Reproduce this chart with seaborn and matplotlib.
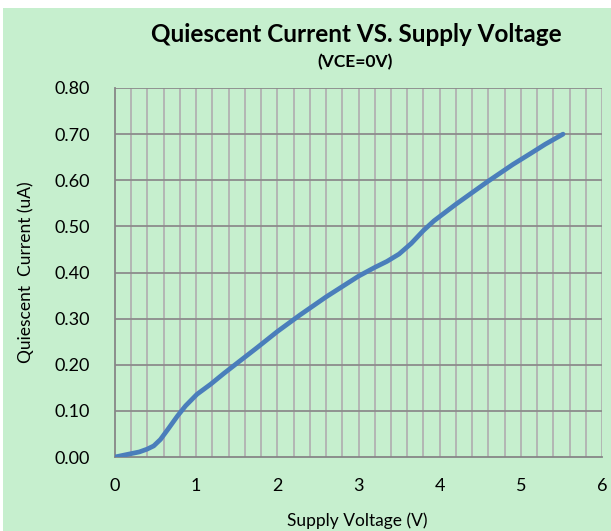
import matplotlib
matplotlib.use("Agg")
import matplotlib.pyplot as plt
import seaborn as sns
import pandas as pd
import numpy as np
from matplotlib.patches import Rectangle

voltage = [0.0, 0.19, 0.3, 0.395, 0.477, 0.56, 0.66, 0.77, 0.87, 1.01, 1.18, 1.34, 1.53, 1.75, 2.0, 2.28, 2.6, 3.0, 3.2, 3.35, 3.5, 3.65, 3.8, 3.93, 4.2, 4.59, 4.9, 5.12, 5.3, 5.52]
current = [0.0, 0.007, 0.011, 0.017, 0.024, 0.038, 0.062, 0.089, 0.111, 0.136, 0.158, 0.181, 0.207, 0.237, 0.272, 0.308, 0.347, 0.392, 0.411, 0.424, 0.440, 0.463, 0.491, 0.512, 0.548, 0.597, 0.634, 0.658, 0.678, 0.700]

x_ticks = [0, 1, 2, 3, 4, 5, 6]
y_ticks = [0.0, 0.1, 0.2, 0.3, 0.4, 0.5, 0.6, 0.7, 0.8]

df = pd.DataFrame({"Supply Voltage (V)": voltage, "Quiescent Current (uA)": current})

sns.set_theme(style="white")
plt.rcParams['font.family'] = ['Lato', 'DejaVu Sans']

bg = "#C6EFCE"
fig = plt.figure(figsize=(6.11, 5.31), dpi=100)
fig.patch.set_facecolor("white")
fig.patches.append(Rectangle((3/611, 0), 1, 1 - 8/531, transform=fig.transFigure,
                             facecolor=bg, edgecolor="none", zorder=-10))
ax = fig.add_axes([115/611, 1 - 457/531, (602-115)/611, (457-88)/531])
ax.set_facecolor(bg)

sns.lineplot(data=df, x="Supply Voltage (V)", y="Quiescent Current (uA)", ax=ax,
             color="#4A7EBB", linewidth=3.4, solid_capstyle="round", solid_joinstyle="round",
             sort=False, zorder=5)

ax.set_xlim(0, 6)
ax.set_ylim(0, 0.8)
ax.set_xticks(x_ticks)
ax.set_xticklabels([str(t) for t in x_ticks])
ax.set_yticks(y_ticks)
ax.set_yticklabels([f"{t:.2f}" for t in y_ticks])
ax.set_xticks(np.arange(0, 6.01, 0.2), minor=True)

ax.grid(False)
for xv in np.arange(0.2, 6.01, 0.2):
    ax.axvline(xv, color="#B2B2B2", linewidth=1.3, zorder=1)
for yv in y_ticks[1:]:
    ax.axhline(yv, color="#8C8C8C", linewidth=1.3, zorder=2)

for s in ["top", "right"]:
    ax.spines[s].set_visible(False)
for s in ["left", "bottom"]:
    ax.spines[s].set_color("#868686")
    ax.spines[s].set_linewidth(1.3)

ax.tick_params(axis="both", which="major", direction="out", length=5, width=1.3,
               color="#868686", labelsize=13, labelcolor="black")
ax.tick_params(axis="y", which="major", pad=13)
ax.tick_params(axis="x", which="minor", length=0)
ax.tick_params(axis="x", which="major", pad=10)

ax.set_xlabel("Supply Voltage (V)", fontsize=12.5, color="black")
ax.set_ylabel("Quiescent  Current (uA)", fontsize=12.5, color="black")
ax.xaxis.set_label_coords(0.498, (457 - 521) / 369)
ax.xaxis.label.set_va("center")
ax.yaxis.set_label_coords((26 - 115) / 487, 0.5)
ax.yaxis.label.set_va("center")

fig.text(356/611, 1 - 34/531, "Quiescent Current VS. Supply Voltage", ha="center", va="center",
         fontsize=17.5, fontweight="bold", color="black")
fig.text(355/611, 1 - 62/531, "(VCE=0V)", ha="center", va="center",
         fontsize=12.5, fontweight="bold", color="black")

fig.savefig("out.png", dpi=100, facecolor=fig.get_facecolor())
